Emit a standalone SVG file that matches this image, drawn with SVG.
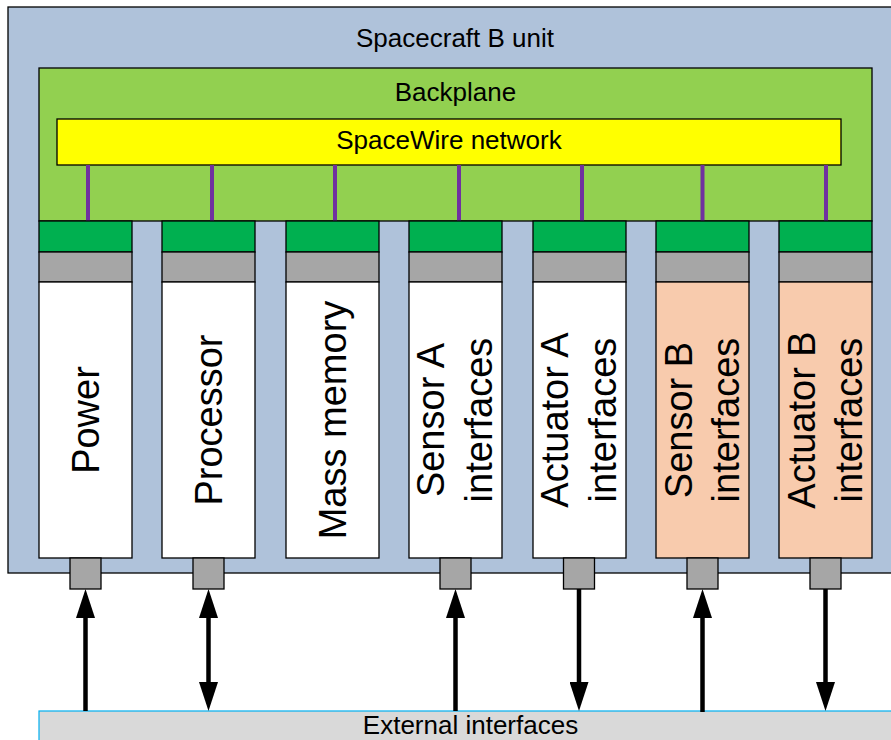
<svg xmlns="http://www.w3.org/2000/svg" width="891" height="740" viewBox="0 0 891 740">
<style>
.t{font-family:"Liberation Sans",Arial,sans-serif;fill:#000}
.h{font-size:26px;text-anchor:middle}
.v{font-size:38px;text-anchor:middle}
.bx{stroke:#000;stroke-width:1.3}
.conn{fill:#00B050}
.slot{fill:#A6A6A6}
.w{fill:#FFFFFF}
.pe{fill:#F8CBAD}
.pl{stroke:#7030A0;stroke-width:4}
.ar{stroke:#000;stroke-width:4.5;fill:none}
</style>
<defs>
<marker id="ah" markerUnits="userSpaceOnUse" markerWidth="29" markerHeight="19" viewBox="0 0 29 19" refX="9" refY="9.5" orient="auto-start-reverse">
<path d="M0,0 L29,9.5 L0,19 z" fill="#000"/>
</marker>
</defs>
<g id="unit">
<rect x="8" y="7" width="894" height="566" fill="#AFC2DA" class="bx"/>
<text class="t h" x="455" y="47">Spacecraft B unit</text>
</g>
<g id="backplane">
<rect x="39" y="68" width="833" height="153" fill="#92D050" class="bx"/>
<text class="t h" x="455.5" y="101">Backplane</text>
</g>
<g id="spacewire">
<rect x="57" y="119" width="784" height="46" fill="#FFFF00" class="bx"/>
<text class="t h" x="449" y="149">SpaceWire network</text>
</g>
<g id="links">
<line class="pl" x1="88" y1="165" x2="88" y2="221"/>
<line class="pl" x1="212" y1="165" x2="212" y2="221"/>
<line class="pl" x1="335" y1="165" x2="335" y2="221"/>
<line class="pl" x1="459" y1="165" x2="459" y2="221"/>
<line class="pl" x1="582" y1="165" x2="582" y2="221"/>
<line class="pl" x1="702.5" y1="165" x2="702.5" y2="221"/>
<line class="pl" x1="826" y1="165" x2="826" y2="221"/>
</g>
<g id="power">
<rect class="conn bx" x="39" y="221" width="93" height="31"/>
<rect class="slot bx" x="39" y="252" width="93" height="30"/>
<rect class="w bx" x="39" y="282" width="93" height="276"/>
<rect class="slot bx" x="70" y="558" width="31" height="31"/>
<text class="t v" transform="translate(85.5,420) rotate(-90)" y="13.5">Power</text>
</g>
<g id="processor">
<rect class="conn bx" x="162" y="221" width="93" height="31"/>
<rect class="slot bx" x="162" y="252" width="93" height="30"/>
<rect class="w bx" x="162" y="282" width="93" height="276"/>
<rect class="slot bx" x="193" y="558" width="31" height="31"/>
<text class="t v" transform="translate(208.5,420) rotate(-90)" y="13.5">Processor</text>
</g>
<g id="mass-memory">
<rect class="conn bx" x="286" y="221" width="93" height="31"/>
<rect class="slot bx" x="286" y="252" width="93" height="30"/>
<rect class="w bx" x="286" y="282" width="93" height="276"/>
<text class="t v" transform="translate(332.5,420) rotate(-90)" y="13.5">Mass memory</text>
</g>
<g id="sensor-a">
<rect class="conn bx" x="409" y="221" width="93" height="31"/>
<rect class="slot bx" x="409" y="252" width="93" height="30"/>
<rect class="w bx" x="409" y="282" width="93" height="276"/>
<rect class="slot bx" x="440" y="558" width="31" height="31"/>
<text class="t v" transform="translate(455.5,420) rotate(-90)"><tspan x="0" y="-11.5">Sensor A</tspan><tspan x="0" y="36.5">interfaces</tspan></text>
</g>
<g id="actuator-a">
<rect class="conn bx" x="533" y="221" width="93" height="31"/>
<rect class="slot bx" x="533" y="252" width="93" height="30"/>
<rect class="w bx" x="533" y="282" width="93" height="276"/>
<rect class="slot bx" x="563.5" y="558" width="31" height="31"/>
<text class="t v" transform="translate(579.5,420) rotate(-90)"><tspan x="0" y="-11.5">Actuator A</tspan><tspan x="0" y="36.5">interfaces</tspan></text>
</g>
<g id="sensor-b">
<rect class="conn bx" x="656" y="221" width="93" height="31"/>
<rect class="slot bx" x="656" y="252" width="93" height="30"/>
<rect class="pe bx" x="656" y="282" width="93" height="276"/>
<rect class="slot bx" x="687" y="558" width="31" height="31"/>
<text class="t v" transform="translate(702.5,420) rotate(-90)"><tspan x="0" y="-11">Sensor B</tspan><tspan x="0" y="36">interfaces</tspan></text>
</g>
<g id="actuator-b">
<rect class="conn bx" x="779" y="221" width="93" height="31"/>
<rect class="slot bx" x="779" y="252" width="93" height="30"/>
<rect class="pe bx" x="779" y="282" width="93" height="276"/>
<rect class="slot bx" x="810" y="558" width="31" height="31"/>
<text class="t v" transform="translate(825.5,420) rotate(-90)"><tspan x="0" y="-11">Actuator B</tspan><tspan x="0" y="36">interfaces</tspan></text>
</g>
<g id="external">
<rect x="39" y="711" width="863" height="40" fill="#D9D9D9" stroke="#00B0F0" stroke-width="1.2"/>
<text class="t h" x="470.5" y="734">External interfaces</text>
</g>
<g id="connectors">
<line class="ar" x1="85.5" y1="711" x2="85.5" y2="609" marker-end="url(#ah)"/>
<line class="ar" x1="208.5" y1="691" x2="208.5" y2="609" marker-start="url(#ah)" marker-end="url(#ah)"/>
<line class="ar" x1="455.5" y1="711" x2="455.5" y2="609" marker-end="url(#ah)"/>
<line class="ar" x1="579" y1="589" x2="579" y2="691" marker-end="url(#ah)"/>
<line class="ar" x1="702.5" y1="712" x2="702.5" y2="609" marker-end="url(#ah)"/>
<line class="ar" x1="825.5" y1="589" x2="825.5" y2="691" marker-end="url(#ah)"/>
</g>
</svg>
